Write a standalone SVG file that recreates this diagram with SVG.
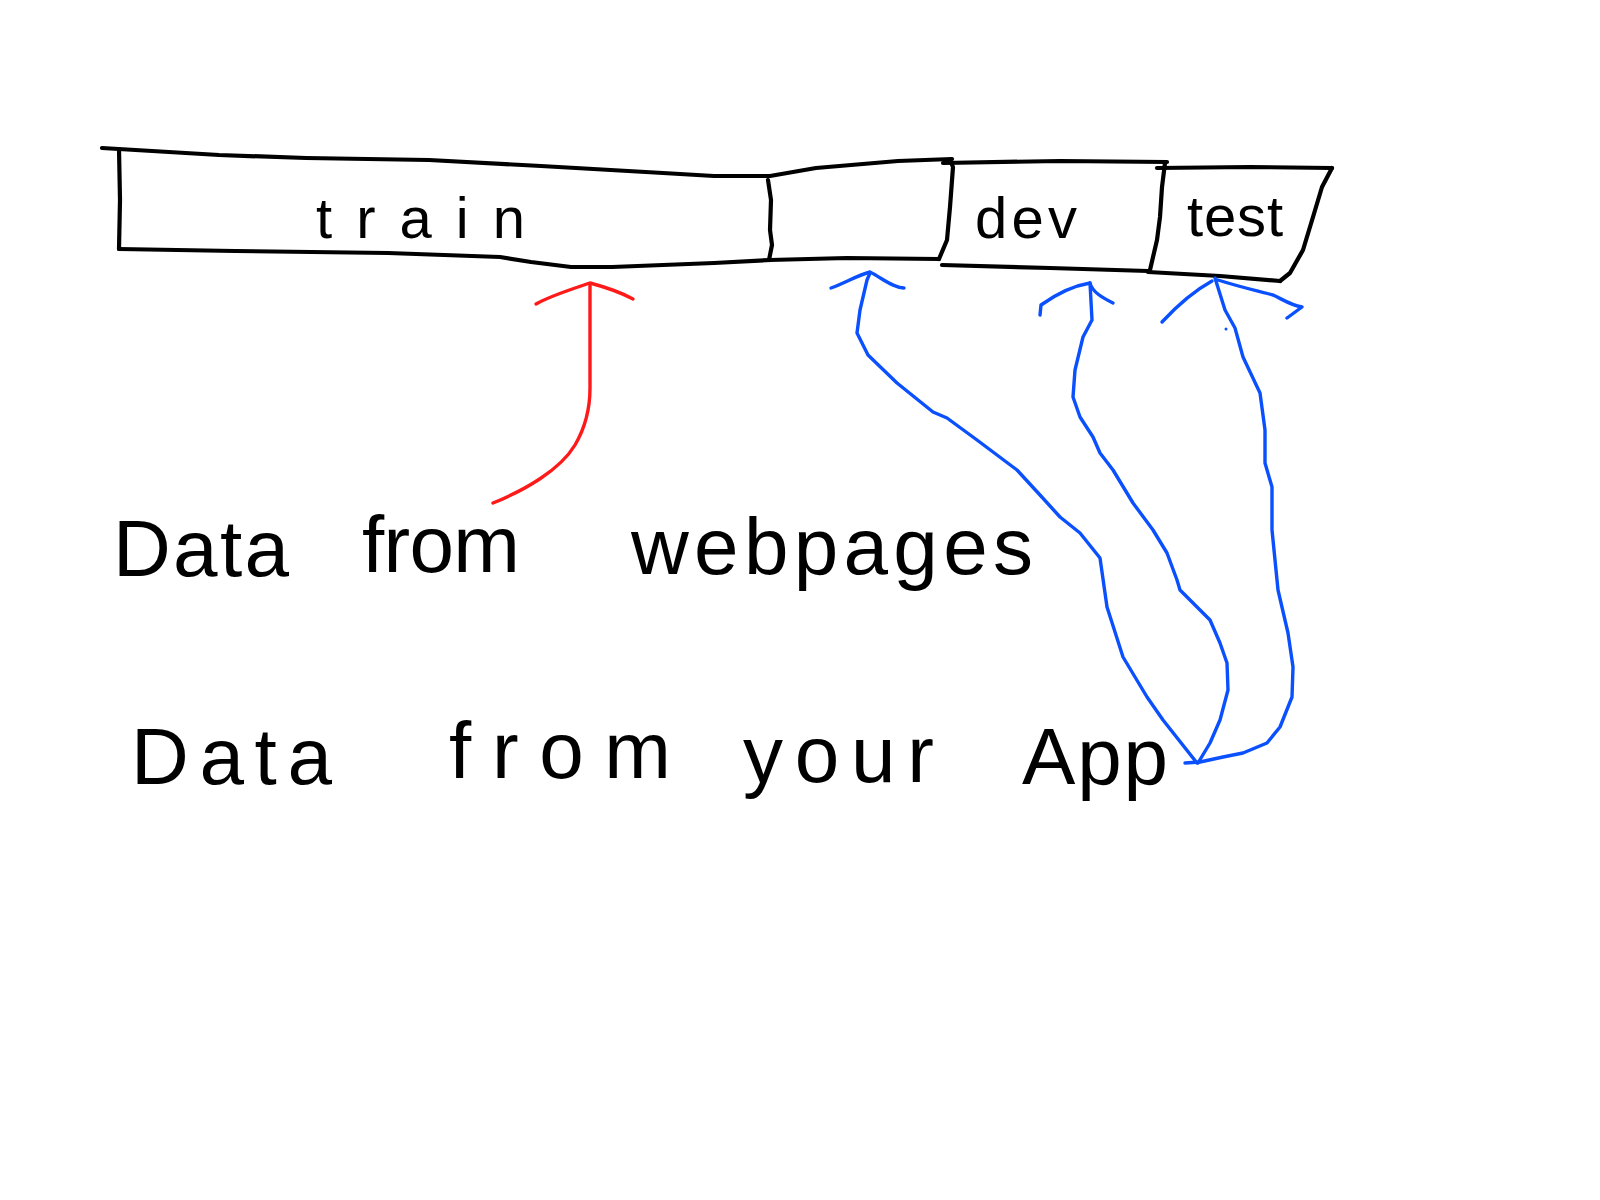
<svg xmlns="http://www.w3.org/2000/svg" width="1600" height="1200" viewBox="0 0 1600 1200">
<style>
.ink{fill:none;stroke:#000;stroke-width:4.2;stroke-linecap:round;stroke-linejoin:round}
.red{fill:none;stroke:#ff1a1a;stroke-width:3.4;stroke-linecap:round;stroke-linejoin:round}
.blue{fill:none;stroke:#0a50ff;stroke-width:3.4;stroke-linecap:round;stroke-linejoin:round}
.lbl{font-family:"Liberation Sans",Arial,sans-serif;fill:#000;font-weight:normal}
.big{font-size:80px}
.small{font-size:58px}
</style>
<rect width="1600" height="1200" fill="#fff"/>
<g id="box-train">
<path class="ink" d="M102,148 L219,155 L306,158 L429,160 L541,166 L663,173 L714,176 L770,176 L816,168 L898,161 L952,159"/>
<path class="ink" d="M119,149 L120,200 L119,249"/>
<path class="ink" d="M119,249 L235,251 L388,253 L500,257 L531,262 L571,267 L612,267 L714,263 L770,260 L847,258 L939,259"/>
<path class="ink" d="M768,180 L771,200 L770,230 L772,245 L769,260"/>
<path class="ink" d="M950,160 L953,167 L950,207 L947,240 L939,259"/>
<text class="lbl small" x="316" y="238" textLength="209" lengthAdjust="spacing">train</text>
</g>
<g id="box-dev">
<path class="ink" d="M943,163 L1060,161 L1167,162"/>
<path class="ink" d="M1165,163 L1162,187 L1160,217 L1157,240 L1150,270"/>
<path class="ink" d="M942,265 L1050,268 L1148,271"/>
<text class="lbl small" x="975" y="238" textLength="102" lengthAdjust="spacing">dev</text>
</g>
<g id="box-test">
<path class="ink" d="M1157,168 L1250,167 L1332,168"/>
<path class="ink" d="M1332,168 L1322,187 L1313,217 L1303,250 L1290,273 L1280,281"/>
<path class="ink" d="M1148,272 L1220,276 L1280,281"/>
<text class="lbl small" x="1187" y="236" textLength="96" lengthAdjust="spacing">test</text>
</g>
<g id="label-webpages">
<text class="lbl big" x="113" y="576" textLength="176" lengthAdjust="spacing">Data</text>
<text class="lbl big" x="362" y="572" textLength="158" lengthAdjust="spacing">from</text>
<text class="lbl big" x="631" y="574" textLength="402" lengthAdjust="spacing">webpages</text>
</g>
<g id="label-app">
<text class="lbl big" x="131" y="784" textLength="201" lengthAdjust="spacing">Data</text>
<text class="lbl big" x="449" y="778" textLength="222" lengthAdjust="spacing">from</text>
<text class="lbl big" x="743" y="782" textLength="191" lengthAdjust="spacing">your</text>
<text class="lbl big" x="1022" y="784" textLength="146" lengthAdjust="spacing">App</text>
</g>
<g id="connectors">
<path class="red" d="M493,503 C525,490 560,470 575,445 C585,428 590,410 590,388 L590,284"/>
<path class="red" d="M536,304 C550,296 566,291 590,283 C605,287 620,292 633,299"/>
<path class="blue" d="M1197,763 L1163,720 L1147,697 L1123,657 L1107,607 L1100,558 L1080,533 L1060,517 L1040,495 L1017,470 L977,440 L947,418 L933,412 L897,383 L868,355 L857,333 L860,310 L867,280 L870,273"/>
<path class="blue" d="M831,288 C845,283 858,275 870,272 C882,278 893,288 904,288"/>
<path class="blue" d="M1198,763 L1210,743 L1220,720 L1228,690 L1227,663 L1220,643 L1210,620 L1197,607 L1180,590 L1177,580 L1167,553 L1153,530 L1133,503 L1113,470 L1100,453 L1093,437 L1080,417 L1073,397 L1075,370 L1083,337 L1092,320 L1090,283"/>
<path class="blue" d="M1040,315 L1041,305 C1055,295 1072,286 1090,283 C1092,292 1103,298 1113,303"/>
<path class="blue" d="M1185,763 L1200,762 L1223,757 L1243,753 L1267,743 L1280,727 L1292,697 L1293,667 L1288,633 L1278,590 L1272,530 L1272,487 L1265,463 L1265,430 L1260,393 L1243,357 L1235,328 L1225,310 L1215,278"/>
<path class="blue" d="M1162,322 C1175,308 1192,292 1212,281"/>
<path class="blue" d="M1218,280 C1240,287 1258,291 1273,295 C1282,299 1290,305 1302,307 L1287,318"/>
<circle cx="1226" cy="329" r="1.5" fill="#0a50ff"/>
</g>
</svg>
